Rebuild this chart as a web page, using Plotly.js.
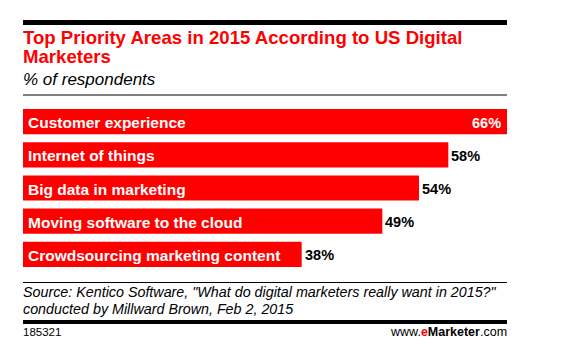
<!DOCTYPE html>
<html><head><meta charset="utf-8">
<script src="https://cdn.plot.ly/plotly-3.0.1.min.js"></script>
<style>body{margin:0;padding:0;background:#fff}#chart{width:577px;height:352px}</style>
</head><body><div id="chart"></div>
<script>
const categories = ["Customer experience","Internet of things","Big data in marketing","Moving software to the cloud","Crowdsourcing marketing content"];
const values = [66,58,54,49,38];
const valueLabels = ["66%","58%","54%","49%","38%"];

const W=577,H=352,ML=23,MR=70,MT=105,MB=81;
const PH=H-MT-MB, PW=W-ML-MR;
const py = p => (H-MB-p)/PH;
const px = p => (p-ML)/PW;
const RED="#ff0000";
const SANS='"Liberation Sans", Arial, sans-serif';

const trace={type:'bar',orientation:'h',x:values,y:categories,marker:{color:RED},hoverinfo:'none'};

const ann=[];
const maxV=Math.max(...values);
categories.forEach((c,i)=>{
  ann.push({xref:'x',yref:'y',x:0,y:c,text:c,showarrow:false,xanchor:'left',yanchor:'middle',xshift:3,yshift:-1,
    font:{family:SANS,size:15.5,color:'#fff',weight:'bold'}});
  const inside = values[i]===maxV;
  ann.push({xref:'x',yref:'y',x:values[i],y:c,text:valueLabels[i],showarrow:false,
    xanchor:inside?'right':'left',yanchor:'middle',xshift:inside?-4:1,yshift:-1,
    font:{family:SANS,size:14.5,color:inside?'#fff':'#000',weight:'bold'}});
});
ann.push({xref:'paper',yref:'paper',x:px(23),y:py(37),text:'Top Priority Areas in 2015 According to US Digital',showarrow:false,xanchor:'left',yanchor:'middle',xshift:-2,font:{family:SANS,size:18.6,color:RED,weight:'bold'}});
ann.push({xref:'paper',yref:'paper',x:px(23),y:py(57),text:'Marketers',showarrow:false,xanchor:'left',yanchor:'middle',xshift:-2,font:{family:SANS,size:18.6,color:RED,weight:'bold'}});
ann.push({xref:'paper',yref:'paper',x:px(23),y:py(79),text:'<i>% of respondents</i>',showarrow:false,xanchor:'left',yanchor:'middle',xshift:-2,font:{family:SANS,size:17,color:'#000'}});
ann.push({xref:'paper',yref:'paper',x:px(23),y:py(292),text:'<i>Source: Kentico Software, "What do digital marketers really want in 2015?"</i>',showarrow:false,xanchor:'left',yanchor:'middle',xshift:-2,font:{family:SANS,size:14.3,color:'#000'}});
ann.push({xref:'paper',yref:'paper',x:px(23),y:py(308.5),text:'<i>conducted by Millward Brown, Feb 2, 2015</i>',showarrow:false,xanchor:'left',yanchor:'middle',xshift:-2,font:{family:SANS,size:14.3,color:'#000'}});
ann.push({xref:'paper',yref:'paper',x:px(23),y:py(332),text:'185321',showarrow:false,xanchor:'left',yanchor:'middle',xshift:-2,font:{family:SANS,size:11.5,color:'#000'}});
ann.push({xref:'paper',yref:'paper',x:px(507),y:py(332),text:'www.<span style="color:#ff0000;font-weight:bold">e</span><b>Marketer</b>.com',showarrow:false,xanchor:'right',yanchor:'middle',xshift:2,font:{family:SANS,size:12.5,color:'#000'}});

const shapes=[
  {type:'rect',xref:'paper',yref:'paper',x0:px(23),x1:px(507),y0:py(20),y1:py(25),fillcolor:'#000',line:{width:0}},
  {type:'line',xref:'paper',yref:'paper',x0:px(23),x1:px(507),y0:py(95),y1:py(95),line:{color:'#000',width:1}},
  {type:'line',xref:'paper',yref:'paper',x0:px(23),x1:px(507),y0:py(282.5),y1:py(282.5),line:{color:'#000',width:1}},
  {type:'rect',xref:'paper',yref:'paper',x0:px(23),x1:px(507),y0:py(320),y1:py(324),fillcolor:'#000',line:{width:0}}
];

const layout={width:W,height:H,margin:{l:ML,r:MR,t:MT,b:MB,pad:0},paper_bgcolor:'#fff',plot_bgcolor:'#fff',
  showlegend:false,bargap:0.24,
  xaxis:{range:[0,66],visible:false,fixedrange:true},
  yaxis:{autorange:'reversed',visible:false,fixedrange:true},
  annotations:ann,shapes:shapes};
Plotly.newPlot('chart',[trace],layout,{displayModeBar:false,staticPlot:true});
</script></body></html>
